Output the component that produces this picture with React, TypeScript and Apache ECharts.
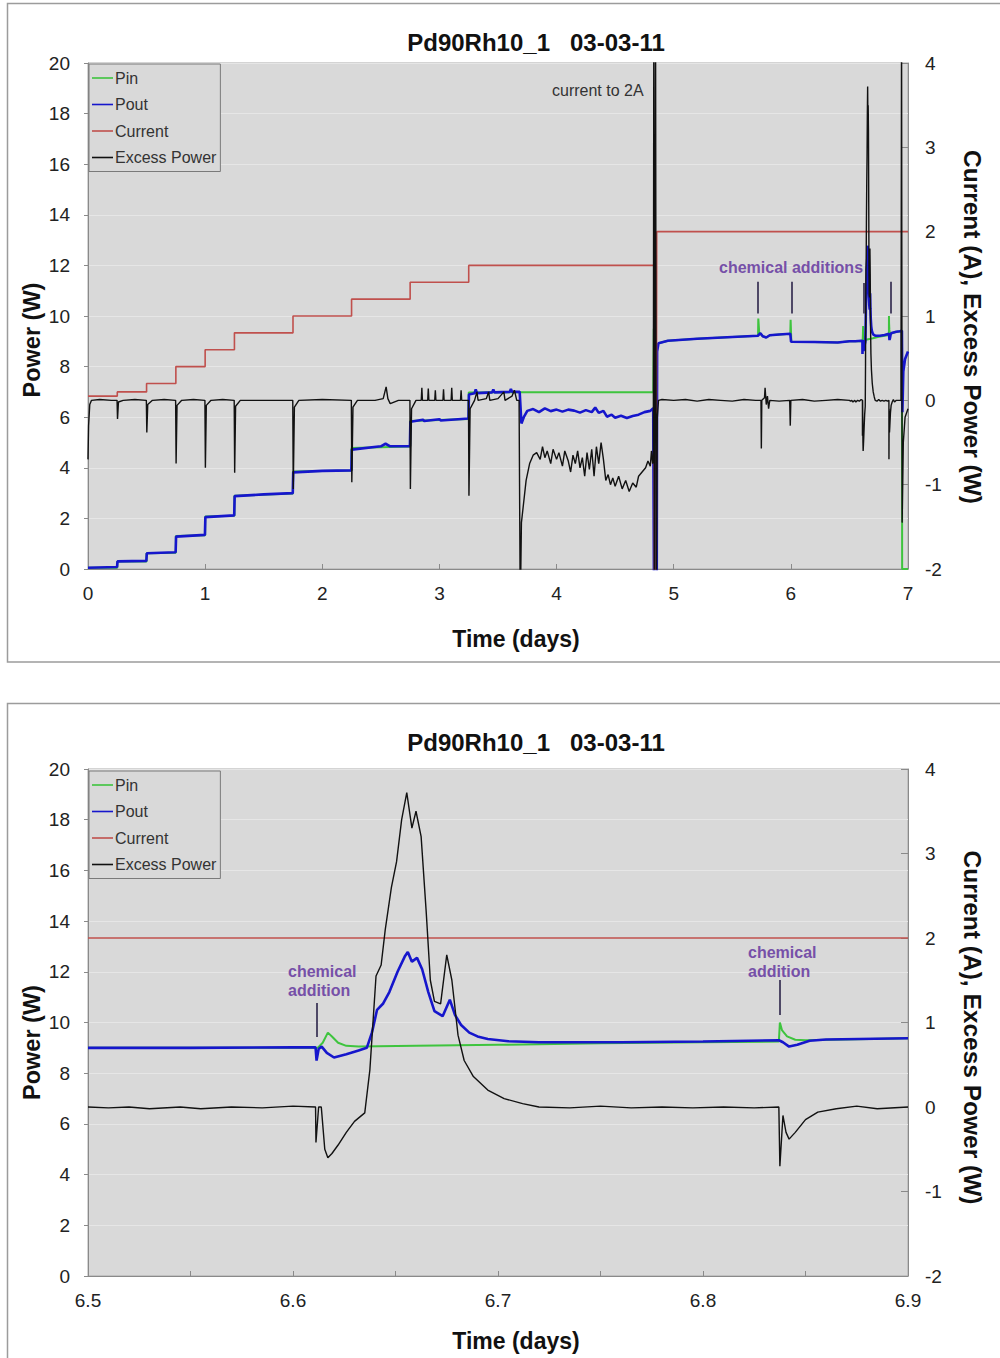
import React, { useEffect, useRef } from 'react';
import * as echarts from 'echarts';

type Pt = [number, number];

const TITLE = 'Pd90Rh10_1   03-03-11';
const SERIES_NAMES = ['Pin', 'Pout', 'Current', 'Excess Power'];
const SERIES_COLORS = ['#3ec43e', '#1616cc', '#c0504d', '#111111'];
const X_TITLE = 'Time (days)';
const Y_LEFT_TITLE = 'Power (W)';
const Y_RIGHT_TITLE = 'Current (A), Excess Power (W)';
const FONT = '"Liberation Sans", Arial, sans-serif';

// ---------- full run, 0 – 6.5 days (top chart) ----------
const runPin: Pt[] = [
  [0, 0.05], [0.25, 0.05], [0.25, 0.3], [0.5, 0.3], [0.5, 0.62], [0.75, 0.64], [0.75, 1.3], [1.0, 1.33],
  [1.0, 2.08], [1.25, 2.1], [1.25, 2.9], [1.75, 2.98], [1.75, 3.85], [2.25, 3.89], [2.25, 4.78], [2.75, 4.84],
  [2.75, 5.85], [3.25, 5.93], [3.25, 6.98], [4.826, 7.0], [4.83, 9.5], [4.834, 0], [4.855, 0], [4.858, 8.85],
  [4.87, 8.92], [4.95, 9.02], [5.2, 9.1], [5.5, 9.17], [5.72, 9.22], [5.722, 9.9], [5.73, 9.35], [5.76, 9.2],
  [5.79, 9.15], [5.82, 9.24], [5.9, 9.27], [5.995, 9.3], [5.998, 9.85], [6.004, 8.98], [6.2, 8.97], [6.4, 8.95],
  [6.5, 9.0],
];
const runPout: Pt[] = [
  [0, 0.05], [0.248, 0.08], [0.252, 0.3], [0.498, 0.32], [0.502, 0.62], [0.748, 0.66], [0.752, 1.28],
  [0.998, 1.35], [1.002, 2.05], [1.248, 2.12], [1.252, 2.88], [1.5, 2.95], [1.748, 3.0], [1.752, 3.82],
  [2.0, 3.88], [2.248, 3.9], [2.252, 4.72], [2.5, 4.85], [2.54, 4.95], [2.58, 4.85], [2.748, 4.85],
  [2.752, 5.82], [2.86, 5.9], [2.87, 5.85], [3.0, 5.92], [3.01, 5.87], [3.248, 5.95], [3.252, 6.9],
  [3.3, 6.95], [3.31, 7.1], [3.32, 6.95], [3.45, 6.98], [3.46, 7.1], [3.47, 6.98], [3.6, 7.0], [3.61, 7.12],
  [3.62, 7.0], [3.685, 7.0], [3.7, 5.75], [3.72, 6.0], [3.75, 6.25], [3.8, 6.32], [3.85, 6.2], [3.9, 6.35],
  [3.95, 6.24], [4.0, 6.3], [4.05, 6.22], [4.1, 6.3], [4.15, 6.26], [4.2, 6.18], [4.25, 6.28], [4.3, 6.2],
  [4.33, 6.38], [4.36, 6.17], [4.4, 6.25], [4.43, 6.02], [4.47, 6.1], [4.5, 5.98], [4.55, 6.06], [4.6, 5.97],
  [4.65, 6.05], [4.7, 6.1], [4.75, 6.2], [4.8, 6.25], [4.825, 6.35], [4.832, -1], [4.855, -1], [4.858, 8.6],
  [4.87, 8.92], [4.95, 9.02], [5.2, 9.1], [5.5, 9.17], [5.72, 9.22], [5.74, 9.32], [5.76, 9.2], [5.79, 9.15],
  [5.82, 9.24], [5.9, 9.27], [5.995, 9.3], [6.002, 8.98], [6.2, 8.97], [6.4, 8.95], [6.5, 9.0],
];
const runCurrent: Pt[] = [
  [0, 0.05], [0.25, 0.05], [0.25, 0.1], [0.5, 0.1], [0.5, 0.2], [0.75, 0.2], [0.75, 0.4], [1.0, 0.4],
  [1.0, 0.6], [1.25, 0.6], [1.25, 0.8], [1.75, 0.8], [1.75, 1.0], [2.25, 1.0], [2.25, 1.2], [2.75, 1.2],
  [2.75, 1.4], [3.25, 1.4], [3.25, 1.6], [4.83, 1.6], [4.832, 2.3], [4.835, -2.5], [4.85, -2.5],
  [4.855, 2.0], [6.5, 2.0],
];
const runExcess: Pt[] = [
  [0, -0.7], [0.005, -0.3], [0.015, -0.05], [0.03, 0.0], [0.1, 0.01], [0.2, 0.0], [0.248, 0.0], [0.252, -0.22],
  [0.26, -0.02], [0.3, 0.0], [0.4, 0.01], [0.498, 0.0], [0.502, -0.38], [0.51, -0.05], [0.55, 0.0], [0.65, 0.01],
  [0.748, 0.0], [0.752, -0.75], [0.76, -0.06], [0.8, 0.0], [0.9, 0.01], [0.998, 0.0], [1.002, -0.8], [1.01, -0.06],
  [1.05, 0.0], [1.15, 0.01], [1.248, 0.0], [1.252, -0.86], [1.26, -0.07], [1.3, 0.0], [1.5, 0.0], [1.748, 0.0],
  [1.752, -1.05], [1.762, -0.08], [1.8, 0.0], [2.0, 0.01], [2.248, 0.0], [2.252, -0.97], [2.262, -0.08], [2.3, 0.0],
  [2.45, 0.0], [2.52, 0.02], [2.545, 0.16], [2.56, 0.02], [2.58, -0.04], [2.65, 0.0], [2.748, 0.0], [2.752, -1.05],
  [2.762, -0.1], [2.8, 0.0], [2.845, 0.0], [2.85, 0.15], [2.855, 0.0], [2.9, 0.0], [2.905, 0.14], [2.91, 0.0],
  [2.96, 0.0], [2.965, 0.12], [2.97, 0.0], [3.03, 0.0], [3.035, 0.13], [3.04, 0.0], [3.1, 0.0], [3.105, 0.15],
  [3.11, 0.0], [3.18, 0.0], [3.185, 0.12], [3.19, 0.0], [3.248, 0.0], [3.252, -1.13], [3.262, -0.1], [3.3, 0.0],
  [3.32, 0.1], [3.33, 0.0], [3.4, 0.02], [3.42, 0.1], [3.43, 0.0], [3.5, 0.02], [3.55, 0.1], [3.56, 0.0],
  [3.62, 0.05], [3.64, 0.12], [3.66, 0.0], [3.68, 0.0], [3.69, -2.5], [3.7, -1.45], [3.72, -1.2], [3.74, -0.95],
  [3.77, -0.75], [3.8, -0.65], [3.83, -0.62], [3.86, -0.7], [3.88, -0.55], [3.9, -0.68], [3.92, -0.6],
  [3.95, -0.75], [3.97, -0.58], [4.0, -0.7], [4.02, -0.62], [4.05, -0.78], [4.07, -0.6], [4.1, -0.72],
  [4.12, -0.85], [4.14, -0.65], [4.16, -0.75], [4.18, -0.6], [4.2, -0.8], [4.22, -0.68], [4.24, -0.9],
  [4.26, -0.62], [4.28, -0.82], [4.3, -0.58], [4.32, -0.9], [4.34, -0.55], [4.36, -0.75], [4.38, -0.5],
  [4.4, -0.7], [4.42, -0.95], [4.44, -0.88], [4.46, -1.0], [4.48, -0.92], [4.5, -1.02], [4.53, -0.9],
  [4.56, -1.05], [4.59, -0.95], [4.62, -1.08], [4.65, -0.98], [4.68, -1.03], [4.7, -0.9], [4.73, -0.85],
  [4.76, -0.8], [4.78, -0.72], [4.8, -0.78], [4.81, -0.6], [4.82, -0.75], [4.826, -0.7], [4.83, 4.5],
  [4.835, -2.5], [4.845, 4.5], [4.852, -2.5], [4.86, -0.2], [4.87, 0.0], [4.9, 0.01], [5.0, 0.0], [5.1, 0.01],
  [5.2, -0.01], [5.3, 0.01], [5.4, 0.0], [5.5, -0.01], [5.6, 0.01], [5.7, 0.0], [5.745, 0.0], [5.748, -0.57],
  [5.752, 0.0], [5.775, 0.03], [5.78, 0.15], [5.79, -0.05], [5.8, 0.05], [5.81, -0.1], [5.82, 0.0], [5.9, -0.01],
  [5.99, 0.0], [5.995, -0.3], [6.0, 0.0], [6.1, 0.01], [6.2, -0.01], [6.3, 0.0], [6.4, 0.01], [6.5, 0.0],
];

// ---------- detail window, 6.5 – 6.9 days (both charts) ----------
const zoomPin: Pt[] = [
  [6.5, 9.0], [6.612, 9.0], [6.6145, 9.2], [6.617, 9.6], [6.619, 9.45], [6.622, 9.2], [6.626, 9.08],
  [6.632, 9.05], [6.66, 9.08], [6.7, 9.12], [6.75, 9.18], [6.8, 9.22], [6.837, 9.25], [6.8375, 10.0],
  [6.8385, 9.7], [6.841, 9.45], [6.845, 9.32], [6.85, 9.3], [6.9, 9.38],
];
const zoomPout: Pt[] = [
  [6.5, 9.0], [6.55, 9.0], [6.6, 9.02], [6.611, 9.02], [6.6115, 8.5], [6.6125, 8.95], [6.614, 9.05],
  [6.6165, 8.8], [6.62, 8.62], [6.626, 8.75], [6.632, 8.9], [6.636, 9.0], [6.6385, 9.6], [6.641, 10.5],
  [6.644, 10.75], [6.647, 11.2], [6.651, 12.0], [6.6545, 12.6], [6.656, 12.78], [6.658, 12.4], [6.6605, 12.55],
  [6.663, 12.1], [6.666, 11.2], [6.669, 10.45], [6.673, 10.25], [6.6765, 10.9], [6.679, 10.3], [6.682, 9.9],
  [6.686, 9.6], [6.69, 9.45], [6.695, 9.35], [6.705, 9.26], [6.72, 9.22], [6.76, 9.22], [6.8, 9.25],
  [6.837, 9.3], [6.839, 9.22], [6.842, 9.05], [6.846, 9.12], [6.852, 9.28], [6.86, 9.33], [6.9, 9.38],
];
const zoomCurrent: Pt[] = [[6.5, 2.0], [6.9, 2.0]];
const zoomExcess: Pt[] = [
  [6.5, 0.0], [6.51, -0.01], [6.52, 0.0], [6.53, -0.02], [6.545, 0.0], [6.555, -0.02], [6.57, 0.0],
  [6.585, -0.01], [6.6, 0.01], [6.611, 0.0], [6.6112, -0.42], [6.6125, 0.0], [6.6138, 0.0], [6.6155, -0.5],
  [6.617, -0.6], [6.619, -0.55], [6.622, -0.45], [6.626, -0.3], [6.63, -0.17], [6.635, -0.07], [6.6375, 0.44],
  [6.6405, 1.55], [6.643, 1.68], [6.645, 2.1], [6.648, 2.6], [6.6505, 2.9], [6.653, 3.4], [6.6555, 3.72],
  [6.658, 3.3], [6.66, 3.5], [6.6625, 3.2], [6.665, 2.3], [6.667, 1.5], [6.669, 1.25], [6.672, 1.22],
  [6.675, 1.8], [6.6775, 1.5], [6.6805, 0.85], [6.6835, 0.55], [6.688, 0.36], [6.695, 0.2], [6.703, 0.1],
  [6.712, 0.04], [6.72, 0.0], [6.735, -0.01], [6.75, 0.01], [6.765, -0.01], [6.78, 0.0], [6.795, -0.01],
  [6.81, 0.0], [6.825, -0.01], [6.837, 0.0], [6.8375, -0.7], [6.839, -0.1], [6.8405, -0.3], [6.842, -0.38],
  [6.845, -0.3], [6.85, -0.15], [6.856, -0.06], [6.865, -0.02], [6.875, 0.01], [6.885, -0.02], [6.9, 0.0],
];

// ---------- end of run, 6.9 – 7.0 days (top chart) ----------
const runPinEnd: Pt[] = [[6.9, 9.38], [6.948, 9.4], [6.95, 0], [7.0, 0]];
const runPoutEnd: Pt[] = [[6.9, 9.38], [6.93, 9.4], [6.948, 9.42], [6.952, 6.2], [6.96, 7.8], [6.975, 8.3], [7.0, 8.6]];
const runCurrentEnd: Pt[] = [[6.9, 2.0], [7.0, 2.0]];
const runExcessEnd: Pt[] = [[6.9, 0.0], [6.94, 0.0], [6.945, 4.5], [6.95, -1.45], [6.96, -0.5], [6.975, -0.2], [7.0, -0.1]];

// annotation pointers: [time, low W, high W]
const topPointers: [number, number, number][] = [[5.72, 10.1, 11.35], [6.01, 10.1, 11.35], [6.62, 10.1, 11.3], [6.85, 10.1, 11.35]];
const zoomPointers: [number, number, number][] = [[6.6117, 9.43, 10.77], [6.8376, 10.3, 11.68]];

// legend icon: a thin horizontal line inside a 21x14 box
const LINE_ICON = 'path://M0,0 M0,6.2 L21,6.2 L21,7.8 L0,7.8 Z M21,14';

interface ChartCfg {
  xMin: number; xMax: number; xInterval: number; minor: boolean; decimals: number;
  gridTop: number; gridHeight: number; titleTop: number; legendTop: number;
  boxTop: number; boxHeight: number; xNameGap: number; leftShift: number; rightShift: number;
  data: Pt[][];
  pointers: [number, number, number][];
  texts: any[];
}

function buildOption(c: ChartCfg): any {
  const axisGray = '#8a8a8a';
  const widths = [2, 2.6, 1.6, 1.4];
  const series = SERIES_NAMES.map((name, i) => {
    const s: any = {
      name, type: 'line', data: c.data[i], symbol: 'none', showSymbol: false,
      yAxisIndex: i < 2 ? 0 : 1, xAxisIndex: 0, clip: true, z: 2 + i,
      lineStyle: { color: SERIES_COLORS[i], width: widths[i] },
      itemStyle: { color: SERIES_COLORS[i] },
    };
    if (i === 1) {
      s.markLine = {
        silent: true, symbol: ['none', 'none'], animation: false,
        label: { show: false },
        lineStyle: { color: '#4e4866', width: 2, type: 'solid' },
        emphasis: { disabled: true },
        data: c.pointers.map(([t, lo, hi]) => [{ coord: [t, lo] }, { coord: [t, hi] }]),
      };
    }
    return s;
  });
  return {
    animation: false,
    backgroundColor: '#ffffff',
    textStyle: { fontFamily: FONT },
    title: {
      text: TITLE, left: 536, top: c.titleTop, textAlign: 'center', padding: 0,
      textStyle: { fontSize: 24, fontWeight: 'bold', color: '#111', fontFamily: FONT },
    },
    legend: {
      data: SERIES_NAMES.map((n) => ({ name: n, icon: LINE_ICON })),
      orient: 'vertical', left: 89, top: c.legendTop,
      backgroundColor: '#d9d9d9', borderColor: '#7a7a7a', borderWidth: 1,
      padding: [6, 4, 6, 3], itemGap: 10.5, itemWidth: 21, itemHeight: 14,
      textStyle: { fontSize: 16, color: '#333', fontFamily: FONT, padding: [0, 0, 0, -3] },
      selectedMode: false,
    },
    grid: {
      left: 88, top: c.gridTop, width: 820, height: c.gridHeight, show: true,
      backgroundColor: '#d9d9d9', borderColor: '#a8a8a8', borderWidth: 1,
    },
    xAxis: {
      type: 'value', min: c.xMin, max: c.xMax, interval: c.xInterval,
      axisLine: { show: true, onZero: false, lineStyle: { color: axisGray } },
      axisTick: { show: true, inside: true, length: 5, lineStyle: { color: axisGray } },
      minorTick: { show: c.minor, splitNumber: 2, length: 5, lineStyle: { color: axisGray } },
      axisLabel: {
        fontSize: 19, color: '#222', margin: 15, fontFamily: FONT,
        formatter: (v: number) => v.toFixed(c.decimals),
      },
      splitLine: { show: false },
      name: X_TITLE, nameLocation: 'middle', nameGap: c.xNameGap, nameMoveOverlap: false,
      nameTextStyle: { fontSize: 23, fontWeight: 'bold', color: '#111', fontFamily: FONT, padding: [0, 0, 0, 36] },
    },
    yAxis: [
      {
        type: 'value', min: 0, max: 20, interval: 2, position: 'left',
        axisLine: { show: true, lineStyle: { color: axisGray } },
        axisTick: { show: true, inside: false, length: 4, lineStyle: { color: axisGray } },
        axisLabel: { fontSize: 19, color: '#222', margin: 18, fontFamily: FONT },
        splitLine: { show: true, lineStyle: { color: '#e6e6e6', width: 1 } },
        name: Y_LEFT_TITLE, nameLocation: 'middle', nameRotate: 90, nameGap: 44, nameMoveOverlap: false,
        nameTextStyle: {
          fontSize: 23.5, fontWeight: 'bold', color: '#111', fontFamily: FONT,
          padding: [0, c.leftShift * 2, 0, 0],
        },
      },
      {
        type: 'value', min: -2, max: 4, interval: 1, position: 'right',
        axisLine: { show: true, onZero: false, lineStyle: { color: axisGray } },
        axisTick: { show: true, inside: true, length: 7, lineStyle: { color: axisGray } },
        axisLabel: { fontSize: 19, color: '#222', margin: 17, fontFamily: FONT },
        splitLine: { show: false },
        name: Y_RIGHT_TITLE, nameLocation: 'middle', nameRotate: -90, nameGap: 52, nameMoveOverlap: false,
        nameTextStyle: {
          fontSize: 24.5, fontWeight: 'bold', color: '#111', fontFamily: FONT,
          padding: [0, 0, 0, c.rightShift * 2],
        },
      },
    ],
    graphic: [
      {
        type: 'rect', silent: true, z: 0,
        shape: { x: 7.5, y: c.boxTop + 0.5, width: 1010, height: c.boxHeight },
        style: { fill: 'none', stroke: '#9c9c9c', lineWidth: 1.5 },
      },
      ...c.texts,
    ],
    series,
  };
}

const purple = '#7650a8';
function label(text: string, x: number, y: number, align: string = 'left', bold = true, color = purple) {
  return {
    type: 'text', x, y, silent: true, z: 50,
    style: {
      text, fill: color, font: `${bold ? 'bold ' : ''}16px ${FONT}`,
      textAlign: align, textVerticalAlign: 'middle',
    },
  };
}

const topCfg: ChartCfg = {
  xMin: 0, xMax: 7, xInterval: 1, minor: false, decimals: 0,
  gridTop: 63, gridHeight: 506, titleTop: 30, legendTop: 64, boxTop: 3, boxHeight: 658.5, xNameGap: 58,
  leftShift: 24, rightShift: 11,
  data: [
    [...runPin, ...zoomPin, ...runPinEnd],
    [...runPout, ...zoomPout, ...runPoutEnd],
    [...runCurrent, ...zoomCurrent, ...runCurrentEnd],
    [...runExcess, ...zoomExcess, ...runExcessEnd],
  ],
  pointers: topPointers,
  texts: [
    label('current to 2A', 552, 90, 'left', false, '#333'),
    label('chemical additions', 791, 267, 'center'),
  ],
};

const BOTTOM_OFFSET = 680;
const bottomCfg: ChartCfg = {
  xMin: 6.5, xMax: 6.9, xInterval: 0.1, minor: true, decimals: 1,
  gridTop: 769 - BOTTOM_OFFSET, gridHeight: 507, titleTop: 742 - BOTTOM_OFFSET - 12,
  legendTop: 771 - BOTTOM_OFFSET, boxTop: 703 - BOTTOM_OFFSET, boxHeight: 700, xNameGap: 53,
  leftShift: 20, rightShift: 5,
  data: [zoomPin, zoomPout, zoomCurrent, zoomExcess],
  pointers: zoomPointers,
  texts: [
    label('chemical', 288, 971 - BOTTOM_OFFSET),
    label('addition', 288, 990 - BOTTOM_OFFSET),
    label('chemical', 748, 952 - BOTTOM_OFFSET),
    label('addition', 748, 971 - BOTTOM_OFFSET),
  ],
};

function Chart({ cfg, top, height }: { cfg: ChartCfg; top: number; height: number }) {
  const ref = useRef<HTMLDivElement>(null);
  useEffect(() => {
    if (!ref.current) return;
    const chart = echarts.init(ref.current, undefined, { renderer: 'svg' });
    chart.setOption(buildOption(cfg));
    return () => chart.dispose();
  }, [cfg]);
  return <div ref={ref} style={{ position: 'absolute', left: 0, top, width: 1000, height }} />;
}

export default function App() {
  return (
    <div style={{ position: 'absolute', left: 0, top: 0, width: 1000, height: 1358, background: '#fff' }}>
      <Chart cfg={topCfg} top={0} height={BOTTOM_OFFSET} />
      <Chart cfg={bottomCfg} top={BOTTOM_OFFSET} height={1358 - BOTTOM_OFFSET} />
    </div>
  );
}
